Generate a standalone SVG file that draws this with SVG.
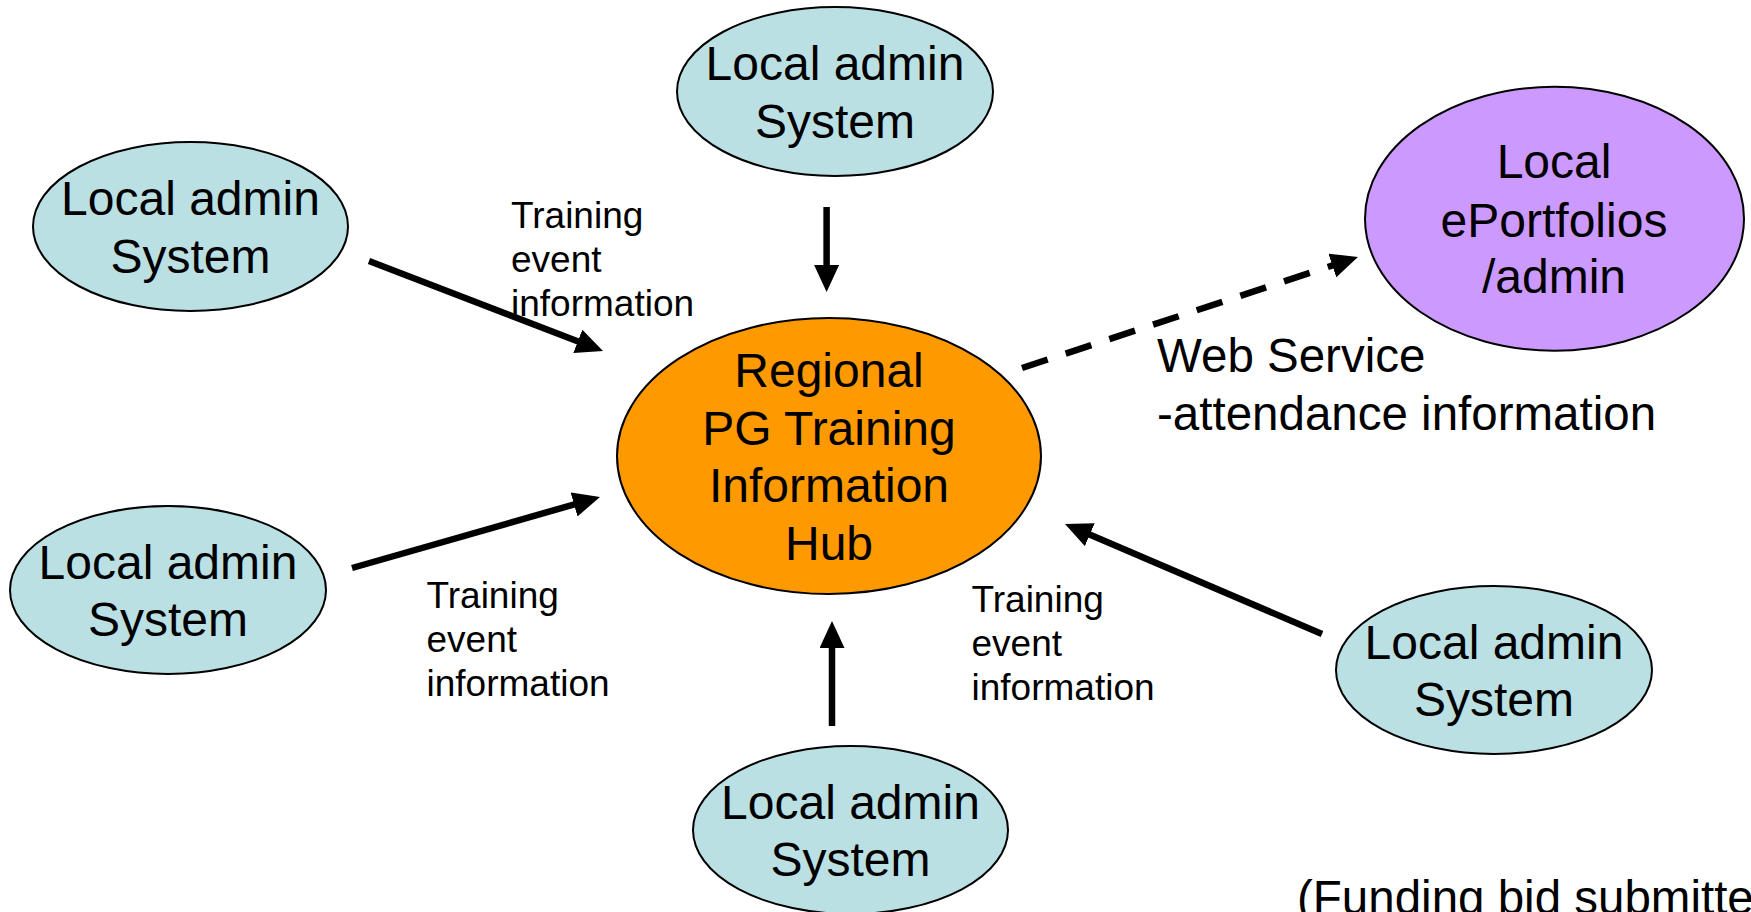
<svg xmlns="http://www.w3.org/2000/svg" width="1751" height="912" viewBox="0 0 1751 912">
<style>
.n{stroke:#000;stroke-width:2}
.blue{fill:#BBE0E3}
.t{font-family:"Liberation Sans",Arial,sans-serif;font-size:48px;fill:#000;text-anchor:middle}
.s{font-family:"Liberation Sans",Arial,sans-serif;font-size:37px;fill:#000}
.w{font-family:"Liberation Sans",Arial,sans-serif;font-size:47.5px;fill:#000}
.c{stroke:#000;stroke-width:6.5;fill:none}
.d{stroke-dasharray:27 19}
</style>
<defs>
<marker id="ah" viewBox="0 0 27 25" markerWidth="27" markerHeight="25" refX="6" refY="12.5" orient="auto" markerUnits="userSpaceOnUse">
<path d="M0,0 L27,12.5 L0,25 z" fill="#000"/>
</marker>
</defs>
<rect width="1751" height="912" fill="#fff"/>
<g id="connectors">
<line class="c" x1="369" y1="261" x2="583.4" y2="343.5" marker-end="url(#ah)"/>
<line class="c" x1="826.6" y1="207" x2="826.6" y2="271" marker-end="url(#ah)"/>
<line class="c" x1="352" y1="568" x2="579.8" y2="502.8" marker-end="url(#ah)"/>
<line class="c" x1="832" y1="726" x2="832" y2="642" marker-end="url(#ah)"/>
<line class="c" x1="1322" y1="634" x2="1084.3" y2="532.3" marker-end="url(#ah)"/>
<line class="c d" x1="1022" y1="368" x2="1338" y2="263.6" marker-end="url(#ah)"/>
</g>
<g id="hub">
<ellipse class="n" cx="829" cy="456" rx="212" ry="138" fill="#FF9900"/>
<text class="t" x="829" y="387">Regional</text>
<text class="t" x="829" y="444.5">PG Training</text>
<text class="t" x="829" y="502">Information</text>
<text class="t" x="829" y="560">Hub</text>
</g>
<g id="local-top">
<ellipse class="n blue" cx="835" cy="91.5" rx="158" ry="84.5"/>
<text class="t" x="835" y="80">Local admin</text>
<text class="t" x="835" y="137.5">System</text>
</g>
<g id="local-left-top">
<ellipse class="n blue" cx="190.5" cy="226.5" rx="157.5" ry="84.5"/>
<text class="t" x="190.5" y="215">Local admin</text>
<text class="t" x="190.5" y="272.5">System</text>
</g>
<g id="local-left-mid">
<ellipse class="n blue" cx="168" cy="590" rx="158" ry="84"/>
<text class="t" x="168" y="578.5">Local admin</text>
<text class="t" x="168" y="636">System</text>
</g>
<g id="local-bottom">
<ellipse class="n blue" cx="850.5" cy="830" rx="157.5" ry="84"/>
<text class="t" x="850.5" y="818.5">Local admin</text>
<text class="t" x="850.5" y="876">System</text>
</g>
<g id="local-right">
<ellipse class="n blue" cx="1494" cy="670" rx="158" ry="84"/>
<text class="t" x="1494" y="658.5">Local admin</text>
<text class="t" x="1494" y="716">System</text>
</g>
<g id="eportfolios">
<ellipse class="n" cx="1554.5" cy="218.7" rx="189.5" ry="132" fill="#CC99FF"/>
<text class="t" x="1554" y="178.3">Local</text>
<text class="t" x="1554" y="236.7">ePortfolios</text>
<text class="t" x="1554" y="293.3">/admin</text>
</g>
<g id="labels">
<text class="s" x="511" y="228">Training</text>
<text class="s" x="511" y="272">event</text>
<text class="s" x="511" y="316">information</text>
<text class="s" x="426.5" y="608">Training</text>
<text class="s" x="426.5" y="652">event</text>
<text class="s" x="426.5" y="696">information</text>
<text class="s" x="971.5" y="612">Training</text>
<text class="s" x="971.5" y="656">event</text>
<text class="s" x="971.5" y="700">information</text>
<text class="w" x="1157" y="371.7">Web Service</text>
<text class="w" x="1157" y="430">-attendance information</text>
<text class="w" x="1297" y="914">(Funding bid submitted)</text>
</g>
</svg>
